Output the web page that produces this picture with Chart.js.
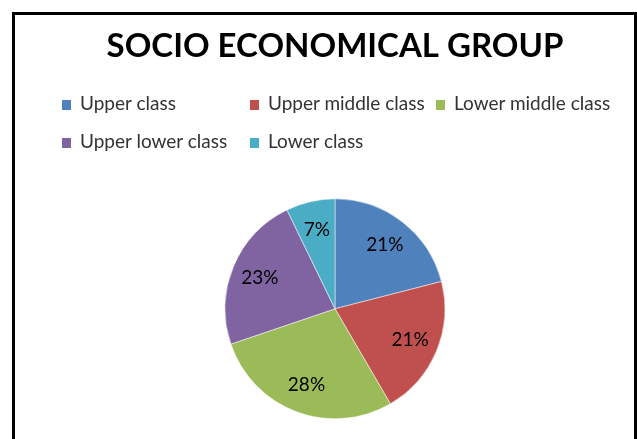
<!DOCTYPE html>
<html>
<head>
<meta charset="utf-8">
<script src="https://cdn.jsdelivr.net/npm/chart.js@4"></script>
<style>
  html, body { margin: 0; padding: 0; background: #fff; }
  #wrap { position: absolute; left: 0; top: 0; width: 637px; height: 439px; }
  #frame {
    position: absolute; left: 12px; top: 12px; width: 625px; height: 440px;
    box-sizing: border-box; border: 3px solid #000; border-bottom: none;
    pointer-events: none;
  }
  .item {
    position: absolute; font-family: Lato, "Open Sans", sans-serif; font-size: 19px;
    color: #333; white-space: nowrap; line-height: 20px;
  }
  .item i {
    display: inline-block; width: 9px; height: 10px; margin-right: 9px; vertical-align: 0px;
  }
</style>
</head>
<body>
<div id="wrap"><canvas id="pieChart" width="637" height="439"></canvas></div>
<div id="frame"></div>
<div id="legend"></div>
<script>
document.addEventListener("DOMContentLoaded", function() {
    // chart data
    const titleText = 'SOCIO ECONOMICAL GROUP';
    const classes = ['Upper class', 'Upper middle class', 'Lower middle class', 'Upper lower class', 'Lower class'];
    const shares = [21, 20.6, 28.2, 23, 7.2];
    const colors = ['#4F81BD', '#C0504D', '#9BBB59', '#8064A2', '#4BACC6'];

    // legend grid like the Excel one: 3 columns, 2 rows
    const legendCols = [62, 250, 436];
    const legendRows = [93, 131];
    const legend = document.getElementById('legend');
    classes.forEach(function(name, i) {
        const el = document.createElement('div');
        el.className = 'item';
        el.style.left = legendCols[i % 3] + 'px';
        el.style.top = legendRows[Math.floor(i / 3)] + 'px';
        el.innerHTML = '<i style="background:' + colors[i] + '"></i>' + name;
        legend.appendChild(el);
    });

    // percent labels inside each slice
    const sliceLabels = {
        id: 'sliceLabels',
        afterDatasetsDraw(chart) {
            const ctx = chart.ctx;
            const meta = chart.getDatasetMeta(0);
            const data = chart.data.datasets[0].data;
            const total = data.reduce((a, b) => a + b, 0);
            ctx.save();
            ctx.font = '19px Lato, "Open Sans", sans-serif';
            ctx.fillStyle = '#000';
            ctx.textAlign = 'center';
            ctx.textBaseline = 'middle';
            meta.data.forEach(function(arc, i) {
                const p = arc.getProps(['x', 'y', 'startAngle', 'endAngle', 'outerRadius'], true);
                const mid = (p.startAngle + p.endAngle) / 2;
                const r = p.outerRadius * 0.74;
                const text = Math.round(data[i] / total * 100) + '%';
                ctx.fillText(text, p.x + Math.cos(mid) * r, p.y + Math.sin(mid) * r);
            });
            ctx.restore();
        }
    };

    const ctx = document.getElementById('pieChart').getContext('2d');
    new Chart(ctx, {
        type: 'pie',
        data: {
            labels: classes,
            datasets: [{
                data: shares,
                backgroundColor: colors,
                borderColor: '#fff',
                borderWidth: 0.5
            }]
        },
        options: {
            responsive: false,
            animation: false,
            layout: { padding: { left: 33, right: 0, top: 0, bottom: 20 } },
            plugins: {
                legend: { display: false },
                tooltip: { enabled: false },
                title: {
                    display: true,
                    text: titleText,
                    color: '#000',
                    font: { family: 'Lato, "Open Sans", sans-serif', size: 33, weight: 'bold', lineHeight: 1.2 },
                    padding: { top: 27, bottom: 132 }
                }
            }
        },
        plugins: [sliceLabels]
    });
});
</script>
</body>
</html>
